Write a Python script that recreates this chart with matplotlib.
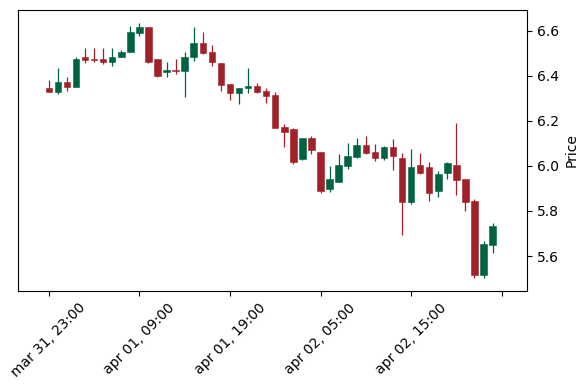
import matplotlib
matplotlib.use("Agg")
import matplotlib.pyplot as plt
import numpy as np

# hourly OHLC, first bar = mar 31, 23:00
opens = [6.345, 6.330, 6.375, 6.352, 6.486, 6.476, 6.476, 6.464, 6.483, 6.505,
         6.592, 6.619, 6.476, 6.416, 6.427, 6.424, 6.483, 6.545, 6.505, 6.459,
         6.364, 6.323, 6.345, 6.356, 6.333, 6.316, 6.175, 6.164, 6.031, 6.123,
         6.061, 5.896, 5.930, 6.001, 6.041, 6.093, 6.061, 6.034, 6.083, 6.034,
         5.841, 6.004, 5.994, 5.889, 5.970, 6.004, 5.942, 5.844, 5.516, 5.649]
highs = [6.380, 6.436, 6.396, 6.484, 6.523, 6.523, 6.523, 6.523, 6.516, 6.623,
         6.634, 6.619, 6.476, 6.464, 6.474, 6.505, 6.619, 6.594, 6.538, 6.459,
         6.364, 6.345, 6.434, 6.370, 6.345, 6.330, 6.185, 6.170, 6.123, 6.133,
         6.061, 6.001, 6.052, 6.101, 6.123, 6.133, 6.098, 6.090, 6.120, 6.059,
         6.074, 6.059, 6.019, 5.979, 6.019, 6.193, 5.942, 5.852, 5.668, 5.748]
lows = [6.328, 6.322, 6.333, 6.350, 6.456, 6.464, 6.453, 6.444, 6.483, 6.505,
        6.578, 6.456, 6.396, 6.397, 6.409, 6.308, 6.468, 6.496, 6.444, 6.333,
        6.293, 6.276, 6.323, 6.323, 6.281, 6.170, 6.083, 6.009, 6.025, 6.052,
        5.881, 5.883, 5.930, 5.985, 6.034, 6.052, 6.022, 6.027, 5.982, 5.693,
        5.830, 5.963, 5.844, 5.861, 5.941, 5.871, 5.801, 5.501, 5.501, 5.612]
closes = [6.330, 6.375, 6.352, 6.476, 6.471, 6.470, 6.461, 6.483, 6.505, 6.594,
          6.619, 6.461, 6.401, 6.427, 6.421, 6.486, 6.545, 6.503, 6.464, 6.360,
          6.323, 6.345, 6.356, 6.330, 6.312, 6.170, 6.152, 6.019, 6.123, 6.071,
          5.889, 5.941, 6.004, 6.044, 6.093, 6.059, 6.034, 6.083, 6.044, 5.841,
          5.994, 5.970, 5.881, 5.963, 6.012, 5.938, 5.841, 5.516, 5.652, 5.733]

tick_pos = [0, 10, 20, 30, 40, 50]
tick_labels = ["mar 31, 23:00", "apr 01, 09:00", "apr 01, 19:00",
               "apr 02, 05:00", "apr 02, 15:00", ""]

UP = "#006340"
DOWN = "#A02128"

o = np.array(opens)
h = np.array(highs)
l = np.array(lows)
c = np.array(closes)
x = np.arange(len(o))
colors = [UP if cc >= oo else DOWN for oo, cc in zip(o, c)]

fig = plt.figure(figsize=(5.87, 3.9), dpi=100)
ax = fig.add_axes([0.0307, 0.2538, 0.8671, 0.7206])

ax.vlines(x, l, h, colors=colors, linewidth=0.9, zorder=2)
bottoms = np.minimum(o, c)
heights = np.maximum(np.abs(c - o), 0.002)
ax.bar(x, heights, bottom=bottoms, width=0.72, color=colors,
       edgecolor=colors, linewidth=0.4, zorder=3)

ax.set_xlim(-3.4, 52.8)
ax.set_ylim(5.4444, 6.6933)
ax.set_xticks(tick_pos)
ax.set_xticklabels(tick_labels, rotation=45)
ax.yaxis.tick_right()
ax.yaxis.set_label_position("right")
ax.set_yticks([5.6, 5.8, 6.0, 6.2, 6.4, 6.6])
ax.set_ylabel("Price")

fig.savefig("out.png", dpi=100)
